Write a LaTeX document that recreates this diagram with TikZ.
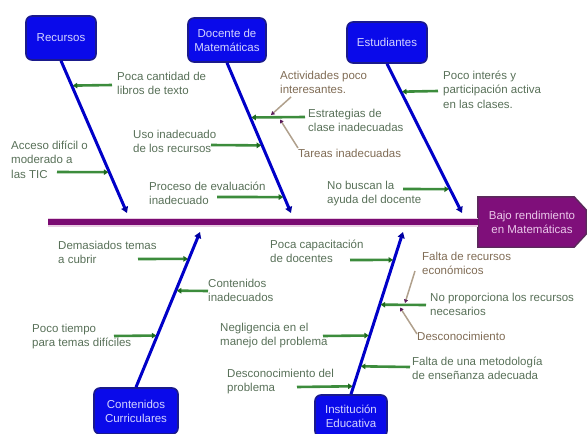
\documentclass[tikz,border=0pt]{standalone}
\usepackage{fontspec}
\setmainfont{Liberation Sans}
\usetikzlibrary{arrows.meta,calc,backgrounds}
\definecolor{boxblue}{HTML}{0A0AEA}
\definecolor{boxedge}{HTML}{1A1A8C}
\definecolor{boxtext}{HTML}{D4D4FF}
\definecolor{bonecol}{HTML}{0000C8}
\definecolor{bonetip}{HTML}{0000A0}
\definecolor{gcol}{HTML}{3C8C3C}
\definecolor{gdark}{HTML}{1E6A1E}
\definecolor{subcol}{HTML}{B0A08C}
\definecolor{subdark}{HTML}{5A1A5A}
\definecolor{txtgreen}{HTML}{587058}
\definecolor{txtbrown}{HTML}{806C55}
\definecolor{spinecol}{HTML}{7A0A72}
\definecolor{spinehalo}{HTML}{E8CCE2}
\definecolor{efffill}{HTML}{7F0F7A}
\definecolor{effedge}{HTML}{5A2A5A}
\definecolor{efftext}{HTML}{EAC8EA}
\tikzset{
  lbl/.style={anchor=north west, inner sep=0pt, align=left, text=txtgreen,
    font=\fontsize{11.5}{14.8}\selectfont, execute at begin node=\strut},
  sublbl/.style={lbl, text=txtbrown},
  cat/.style={draw=boxedge, fill=boxblue, line width=1.6pt, rounded corners=6pt,
    text=boxtext, align=center, inner sep=1pt, font=\fontsize{11.5}{14}\selectfont},
  bone/.style={draw=bonecol, line width=3pt, -{Triangle[length=6pt,width=7pt,color=bonetip]}},
  gline/.style={draw=gcol, line width=2.6pt, -{Triangle[length=4.5pt,width=5.5pt,color=gdark]}, shorten >=1pt},
  subline/.style={draw=subcol, line width=1.5pt, -{Triangle[length=3.5pt,width=4pt,color=subdark]}},
}
\begin{document}
\begin{tikzpicture}[x=1pt,y=-1pt]
\useasboundingbox (0,0) rectangle (587,434);

% category boxes
\node[cat, minimum width=70pt, minimum height=44pt] (rec) at (61,38) {Recursos};
\node[cat, minimum width=78pt, minimum height=44pt] (doc) at (227,40) {Docente de\\Matemáticas};
\node[cat, minimum width=80pt, minimum height=41pt] (est) at (387,42.5) {Estudiantes};
\node[cat, minimum width=84pt, minimum height=46pt] (cont) at (136,411) {Contenidos\\Curriculares};
\node[cat, minimum width=72pt, minimum height=42pt] (inst) at (351,416) {Institución\\Educativa};

% effect
\node[inner sep=0pt, minimum width=108pt, minimum height=50pt, text=efftext, align=center,
  font=\fontsize{11.5}{14}\selectfont] (eff) at (532,222) {Bajo rendimiento\\en Matemáticas};
\begin{scope}[on background layer]
\filldraw[fill=efffill, draw=effedge, line width=1.4pt]
  (eff.north west) -- ($(eff.north east)+(-12,0)$) -- ($(eff.north east)+(0,13)$)
  -- ($(eff.south east)+(0,-13)$) -- ($(eff.south east)+(-12,0)$) -- (eff.south west) -- cycle;
\end{scope}

% spine
\coordinate (tail) at (48,222);
\draw[spinehalo, line width=9pt] (tail) -- (eff.west);
\draw[spinecol, line width=5.5pt] (tail) -- (eff.west);

% bones
\coordinate (recE) at (127,213);
\coordinate (docE) at (291,213);
\coordinate (estE) at (462,213);
\coordinate (contE) at (200,232);
\coordinate (instE) at (403,232);
\draw[bone] (rec.south) -- (recE);
\draw[bone] (doc.south) -- (docE);
\draw[bone] (est.south) -- (estE);
\draw[bone] (cont.north) -- (contE);
\draw[bone] (inst.north) -- (instE);

% labels
\node[lbl] (pcl) at (117,71.5) {Poca cantidad de\\libros de texto};
\node[lbl] (adm) at (11,140.5) {Acceso difícil o\\moderado a\\las TIC};
\node[lbl] (uso) at (133,129.5) {Uso inadecuado\\de los recursos};
\node[lbl] (pev) at (149,181.5) {Proceso de evaluación\\inadecuado};
\node[sublbl] (act) at (280,70.5) {Actividades poco\\interesantes.};
\node[lbl] (estr) at (308,108.5) {Estrategias de\\clase inadecuadas};
\node[sublbl] (tar) at (298,146.5) {Tareas inadecuadas};
\node[lbl] (pint) at (443,70.5) {Poco interés y\\participación activa\\en las clases.};
\node[lbl] (nob) at (327,180.5) {No buscan la\\ayuda del docente};
\node[lbl] (dem) at (58,240.5) {Demasiados temas\\a cubrir};
\node[lbl] (cin) at (208,278.5) {Contenidos\\inadecuados};
\node[lbl] (ptm) at (32,323.5) {Poco tiempo\\para temas difíciles};
\node[lbl] (pcap) at (270,239.5) {Poca capacitación\\de docentes};
\node[lbl] (neg) at (220,322.5) {Negligencia en el\\manejo del problema};
\node[sublbl] (fre) at (422,251.5) {Falta de recursos\\económicos};
\node[lbl] (npr) at (430,292.5) {No proporciona los recursos\\necesarios};
\node[sublbl] (desc) at (417,329.5) {Desconocimiento};
\node[lbl] (fme) at (412,356.5) {Falta de una metodología\\de enseñanza adecuada};
\node[lbl] (dpr) at (227,368.5) {Desconocimiento del\\problema};

% green branch coordinates
\coordinate (g1s) at (112,85);  \coordinate (g1t) at ($(rec.south)!0.163!(recE)$);
\coordinate (g2s) at (57,172);  \coordinate (g2t) at ($(rec.south)!0.732!(recE)$);
\coordinate (g3s) at (305,117); \coordinate (g3t) at ($(doc.south)!0.364!(docE)$);
\coordinate (g4s) at (211,145); \coordinate (g4t) at ($(doc.south)!0.550!(docE)$);
\coordinate (g5s) at (217,197); \coordinate (g5t) at ($(doc.south)!0.894!(docE)$);
\coordinate (g6s) at (438,91);  \coordinate (g6t) at ($(est.south)!0.187!(estE)$);
\coordinate (g7s) at (403,189); \coordinate (g7t) at ($(est.south)!0.840!(estE)$);
\coordinate (g8s) at (138,259); \coordinate (g8t) at ($(cont.north)!0.827!(contE)$);
\coordinate (g9s) at (208,291); \coordinate (g9t) at ($(cont.north)!0.622!(contE)$);
\coordinate (g10s) at (114,336); \coordinate (g10t) at ($(cont.north)!0.333!(contE)$);
\coordinate (g11s) at (350,260); \coordinate (g11t) at ($(inst.north)!0.828!(instE)$);
\coordinate (g12s) at (426,305); \coordinate (g12t) at ($(inst.north)!0.552!(instE)$);
\coordinate (g13s) at (323,336); \coordinate (g13t) at ($(inst.north)!0.362!(instE)$);
\coordinate (g14s) at (410,367); \coordinate (g14t) at ($(inst.north)!0.172!(instE)$);
\coordinate (g15s) at (297,387); \coordinate (g15t) at ($(inst.north)!0.049!(instE)$);

\foreach \i in {1,...,15} {\draw[gline] (g\i s) -- (g\i t);}

% sub-branches
\coordinate (s1s) at (291,97);  \coordinate (s1t) at (271,115);
\coordinate (s2s) at (298,148); \coordinate (s2t) at (280,119.5);
\coordinate (s3s) at (415,271); \coordinate (s3t) at (405,303);
\coordinate (s4s) at (417,334); \coordinate (s4t) at (400,307.5);
\draw[subline] (s1s) -- (s1t);
\draw[subline] (s2s) -- (s2t);
\draw[subline] (s3s) -- (s3t);
\draw[subline] (s4s) -- (s4t);
\end{tikzpicture}
\end{document}
